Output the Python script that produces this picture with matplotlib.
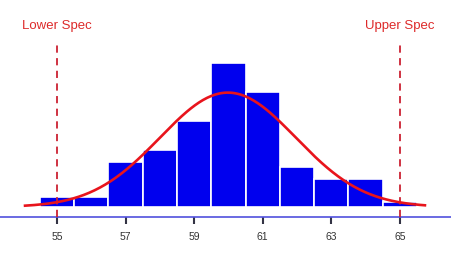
import numpy as np
import matplotlib
matplotlib.use("Agg")
import matplotlib.pyplot as plt

plt.rcParams['font.family'] = ['Liberation Sans', 'DejaVu Sans']

# histogram bins (centres) and counts
bins = [55, 56, 57, 58, 59, 60, 61, 62, 63, 64, 65]
counts = [2, 2, 9, 11.4, 17.2, 28.8, 23, 8, 5.6, 5.6, 1]
spec_limits = [55, 65]
spec_labels = ["Lower Spec", "Upper Spec"]
tick_vals = [55, 57, 59, 61, 63, 65]

fig = plt.figure(figsize=(4.51, 2.54), dpi=100)
ax = fig.add_axes([0, 37 / 254, 1, 217 / 254])

ax.bar(bins, counts, width=1.0, color='#0000ee', edgecolor='white', linewidth=1.2, zorder=2)

# fitted normal curve from the binned data
b = np.array(bins, dtype=float)
c = np.array(counts, dtype=float)
n = c.sum()
mu = (b * c).sum() / n
sd = np.sqrt((c * (b - mu) ** 2).sum() / n)
xs = np.linspace(54.07, 65.73, 300)
ys = n / (sd * np.sqrt(2 * np.pi)) * np.exp(-(xs - mu) ** 2 / (2 * sd ** 2))
ax.plot(xs, ys, color='#e8141c', linewidth=1.9, zorder=4)

for s, lab in zip(spec_limits, spec_labels):
    ax.vlines(s, -2, 32.8, colors='#cc2233', linestyles=(0, (4, 3)), linewidth=1.3, zorder=3)
    ax.text(s, 36.2, lab, color='#dd2a2a', fontsize=9.5, ha='center', va='center')

ax.set_xlim(53.34, 66.49)
ax.set_ylim(-2, 41.4)
ax.set_xticks(tick_vals)
ax.set_xticklabels([str(t) for t in tick_vals])
ax.set_yticks([])
for side in ['top', 'left', 'right']:
    ax.spines[side].set_visible(False)
ax.spines['bottom'].set_color('#5050dd')
ax.spines['bottom'].set_linewidth(1.2)
ax.tick_params(axis='x', direction='out', length=5, width=1.5, color='#333344',
               labelsize=7.5, labelcolor='#333333', pad=5.5)

fig.savefig('out.png', dpi=100)
